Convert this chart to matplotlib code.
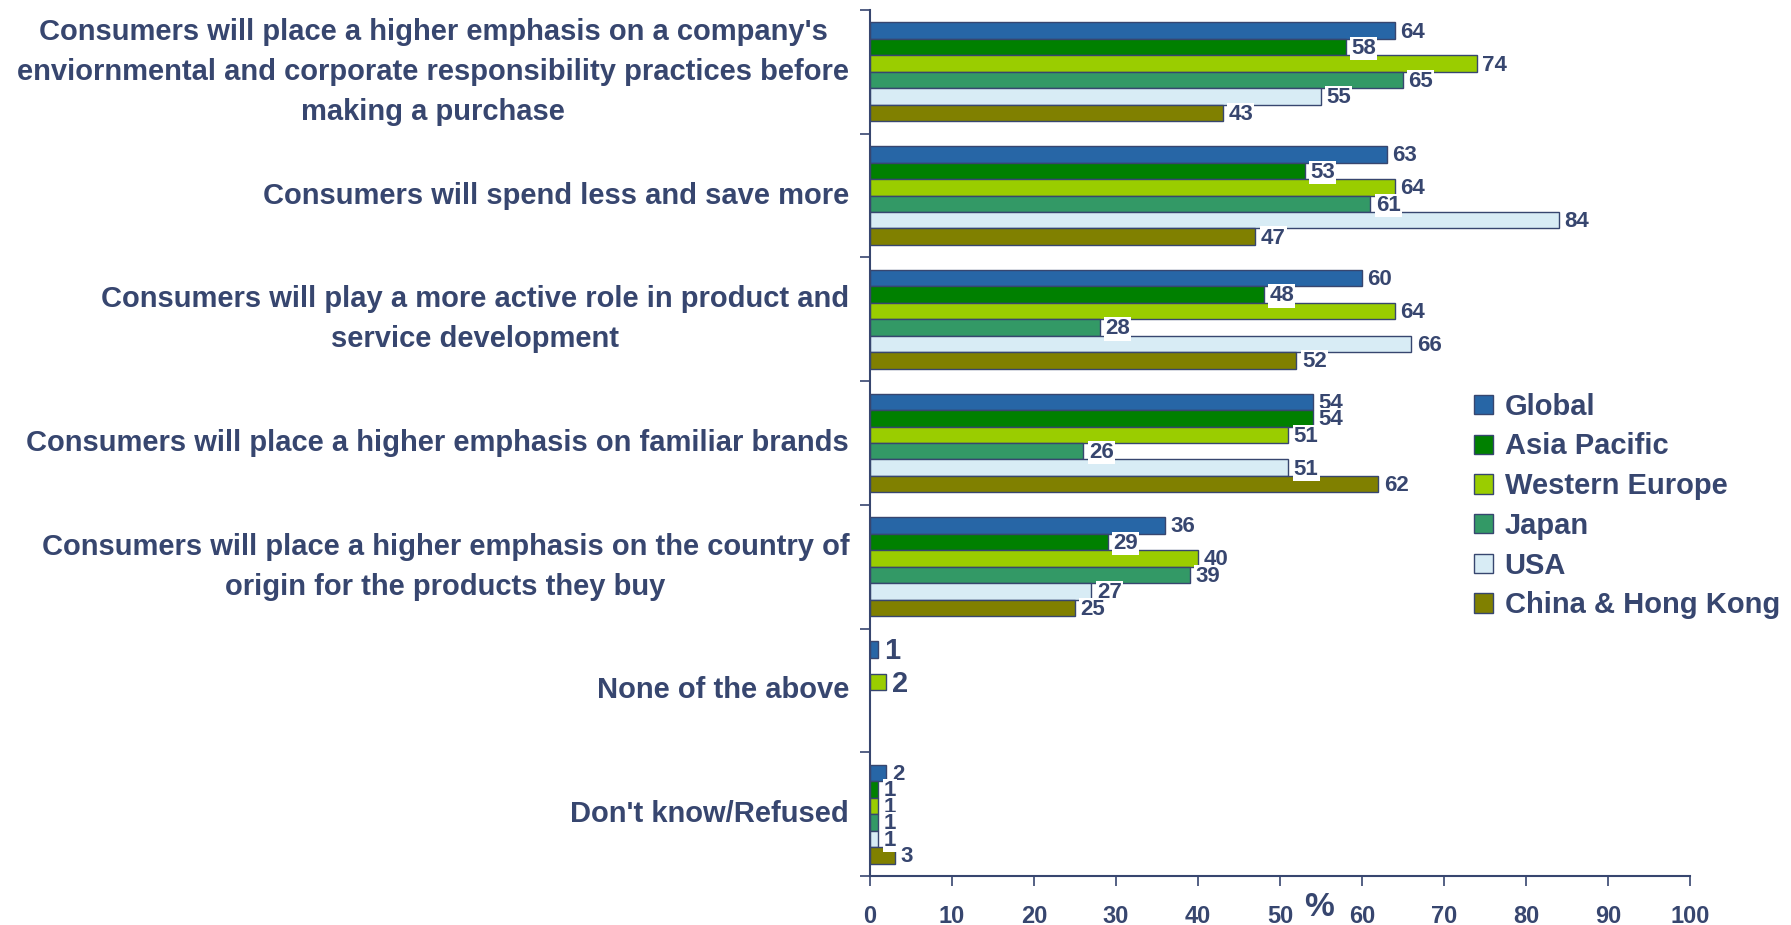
import numpy as np
import matplotlib.pyplot as plt
from matplotlib.patches import Patch

plt.rcParams['font.family'] = ['Liberation Sans', 'DejaVu Sans']
plt.rcParams['font.weight'] = 'bold'

NAVY = '#37466F'

categories = [
    "Consumers will place a higher emphasis on a company's\n"
    "enviornmental and corporate responsibility practices before\n"
    "making a purchase",
    "Consumers will spend less and save more",
    "Consumers will play a more active role in product and\nservice development",
    "Consumers will place a higher emphasis on familiar brands",
    "Consumers will place a higher emphasis on the country of\norigin for the products they buy",
    "None of the above",
    "Don't know/Refused",
]
series = ['Global', 'Asia Pacific', 'Western Europe', 'Japan', 'USA', 'China & Hong Kong']
global_vals = [64, 63, 60, 54, 36, 1, 2]
asia_pacific = [58, 53, 48, 54, 29, np.nan, 1]
western_europe = [74, 64, 64, 51, 40, 2, 1]
japan = [65, 61, 28, 26, 39, np.nan, 1]
usa = [55, 84, 66, 51, 27, np.nan, 1]
china_hk = [43, 47, 52, 62, 25, np.nan, 3]
xticks = list(range(0, 101, 10))

values = [global_vals, asia_pacific, western_europe, japan, usa, china_hk]
colors = ['#2766A6', '#008000', '#9ACD00', '#339966', '#D8ECF5', '#808000']

fig = plt.figure(figsize=(17.91, 9.25), dpi=100)
ax = fig.add_axes([870 / 1791, 49 / 925, 820 / 1791, 866 / 925])

h = 0.133
pos = np.arange(len(categories))
for i, (vals, col) in enumerate(zip(values, colors)):
    y = pos + (i - 2.5) * h
    ax.barh(y, vals, height=h, color=col, edgecolor=NAVY, linewidth=1)
    for k, (yy, v) in enumerate(zip(y, vals)):
        if np.isnan(v):
            continue
        big = k == 5
        ax.annotate(str(int(v)), (v, yy), xytext=(4, -1), textcoords='offset points',
                    ha='left', va='center', fontsize=21 if big else 16,
                    color=NAVY, fontweight='bold',
                    bbox=dict(boxstyle='square,pad=0.05', fc='white', ec='none'))

ax.set_xlim(0, 100)
ax.set_ylim(len(categories) - 0.5, -0.5)
ax.set_xticks(xticks)
ax.set_xticklabels([str(t) for t in xticks], fontsize=17, color=NAVY)
ax.tick_params(axis='x', direction='out', length=7, width=1.2, color=NAVY, pad=14)

ax.set_yticks(pos)
ax.set_yticklabels(categories, fontsize=21, color=NAVY, linespacing=1.55)
for lbl in ax.get_yticklabels():
    lbl.set_multialignment('center')
    lbl.set_va('center')
ax.set_yticks(np.arange(-0.5, len(categories)), minor=True)
ax.tick_params(axis='y', which='major', length=0, pad=15)
ax.tick_params(axis='y', which='minor', direction='out', length=7, width=1.2, color=NAVY)

for s in ['top', 'right']:
    ax.spines[s].set_visible(False)
for s in ['left', 'bottom']:
    ax.spines[s].set_color(NAVY)
    ax.spines[s].set_linewidth(1.5)

ax.set_xlabel('%', fontsize=24, color=NAVY, fontweight='bold')
ax.xaxis.set_label_coords(0.548, -0.036)
ax.xaxis.label.set_va('center')

handles = [Patch(facecolor=c, edgecolor=NAVY, linewidth=1, label=s) for s, c in zip(series, colors)]
fig.legend(handles=handles, loc='center left', bbox_to_anchor=(1474 / 1791, 1 - 506 / 925),
           frameon=False, labelcolor=NAVY, handlelength=0.65, handleheight=0.65,
           handletextpad=0.4, labelspacing=0.4, borderpad=0, borderaxespad=0,
           prop={'weight': 'bold', 'size': 21})

fig.savefig('out.png', dpi=100)
